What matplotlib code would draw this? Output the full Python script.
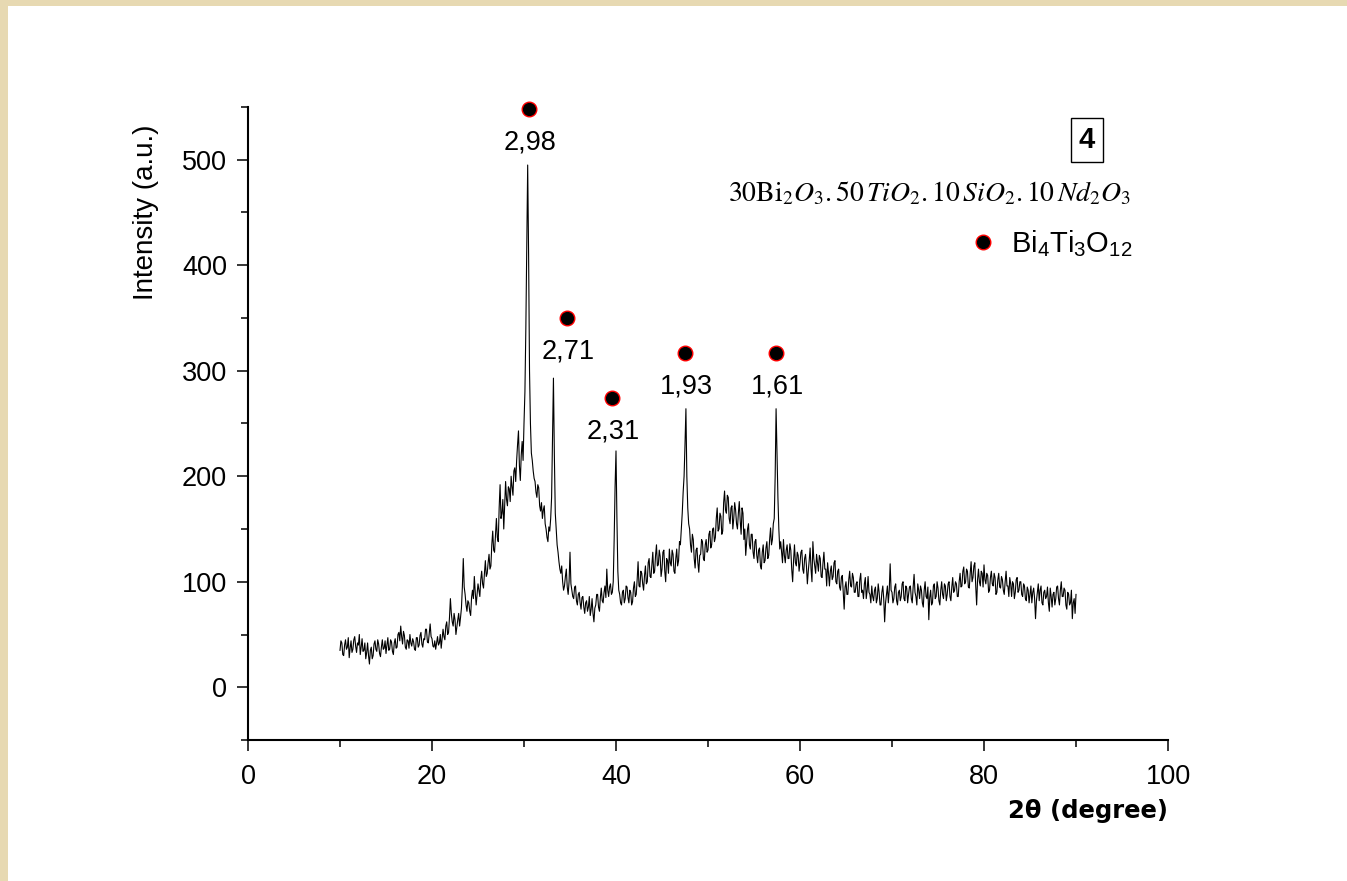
import numpy as np
import matplotlib
matplotlib.use("Agg")
import matplotlib.pyplot as plt
from matplotlib.lines import Line2D
from matplotlib.patches import Rectangle

# ---------------- data ----------------
scan_start, scan_end = 10.0, 90.0   # 2theta range of the scan (step 0.1 deg)
intensity = [
    35, 44, 42, 31, 30, 40, 45, 36, 38, 47, 28, 37, 44, 33, 36, 45, 48, 39, 33, 42,            # 10
    40, 50, 31, 38, 46, 34, 35, 42, 27, 33, 42, 30, 22, 35, 38, 27, 30, 41, 44, 36,            # 12
    34, 45, 41, 32, 29, 38, 45, 36, 37, 44, 32, 40, 47, 35, 36, 45, 43, 34, 31, 42,            # 14
    46, 37, 38, 50, 52, 44, 58, 48, 41, 53, 49, 38, 36, 45, 44, 37, 50, 42, 39, 46,            # 16
    43, 36, 35, 47, 47, 38, 40, 49, 52, 41, 38, 46, 45, 55, 55, 43, 42, 51, 60, 48,            # 18
    46, 39, 38, 44, 36, 42, 48, 40, 42, 50, 37, 46, 55, 48, 45, 58, 62, 50, 52, 66,            # 20
    84, 70, 62, 58, 70, 64, 50, 57, 64, 70, 58, 66, 75, 95, 122, 95, 88, 78, 72, 82,           # 22
    80, 72, 68, 85, 92, 84, 105, 90, 78, 88, 98, 92, 86, 102, 110, 98, 94, 108, 120, 105,      # 24
    108, 118, 126, 112, 115, 135, 148, 130, 128, 145, 160, 142, 138, 170, 192, 160, 165, 178, 150, 172,  # 26
    195, 178, 172, 190, 188, 176, 200, 190, 182, 205, 208, 195, 215, 230, 243, 210, 196, 220, 233, 215,  # 28
    250, 280, 340, 420, 495, 410, 300, 250, 222, 215, 205, 198, 195, 185, 180, 192, 189, 172, 167, 175,  # 30
    160, 168, 172, 155, 150, 142, 138, 152, 148, 160, 180, 240, 293, 220, 165, 150, 135, 128, 119, 112,  # 32
    108, 115, 100, 92, 96, 105, 112, 95, 88, 100, 128, 98, 92, 86, 84, 95, 96, 82, 78, 88,     # 34
    90, 80, 74, 85, 86, 76, 70, 80, 82, 72, 76, 86, 68, 74, 84, 70, 62, 75, 78, 88,            # 36
    88, 76, 72, 85, 94, 82, 80, 90, 96, 85, 112, 92, 86, 95, 98, 88, 90, 100, 140, 190,        # 38
    224, 160, 110, 92, 88, 80, 78, 90, 92, 80, 84, 96, 95, 85, 80, 92, 90, 78, 81, 94,         # 40
    100, 86, 88, 102, 119, 96, 95, 110, 108, 98, 92, 106, 115, 98, 100, 118, 122, 105, 104, 116,  # 42
    128, 108, 110, 125, 135, 115, 116, 130, 124, 105, 112, 128, 130, 110, 100, 122, 120, 108, 131, 118,  # 44
    115, 130, 126, 110, 108, 122, 131, 115, 120, 138, 135, 150, 165, 185, 200, 230, 264, 200, 170, 155,  # 46
    150, 135, 128, 145, 140, 122, 113, 130, 132, 118, 109, 125, 126, 140, 138, 122, 120, 135, 140, 128,  # 48
    130, 145, 148, 132, 135, 150, 151, 138, 142, 160, 170, 148, 150, 165, 162, 145, 148, 175, 186, 168,  # 50
    165, 182, 180, 160, 155, 170, 172, 150, 160, 175, 168, 155, 150, 165, 176, 158, 145, 170, 165, 140,  # 52
    150, 125, 138, 150, 155, 135, 131, 145, 145, 128, 122, 138, 140, 125, 118, 130, 132, 115, 112, 128,  # 54
    135, 118, 120, 132, 138, 122, 125, 140, 151, 135, 140, 155, 160, 200, 264, 220, 180, 150, 131, 138,  # 56
    128, 118, 140, 125, 118, 130, 135, 122, 122, 136, 130, 112, 100, 120, 135, 118, 115, 128, 125, 110,  # 58
    118, 128, 130, 112, 108, 122, 126, 115, 98, 110, 120, 132, 112, 100, 138, 122, 115, 108, 126, 118,  # 60
    110, 125, 122, 105, 104, 118, 128, 112, 112, 96, 118, 108, 96, 110, 115, 102, 105, 118, 120, 100,  # 62
    98, 110, 112, 95, 92, 104, 106, 90, 74, 95, 100, 88, 88, 102, 110, 96, 95, 108, 104, 90,   # 64
    90, 98, 100, 86, 86, 102, 108, 90, 92, 84, 98, 104, 84, 92, 105, 90, 88, 80, 96, 86,       # 66
    82, 92, 95, 80, 84, 98, 90, 78, 78, 90, 96, 84, 62, 80, 88, 96, 80, 92, 117, 92,           # 68
    90, 80, 84, 95, 98, 82, 78, 90, 92, 82, 86, 98, 100, 84, 82, 96, 94, 80, 88, 95,           # 70
    96, 84, 80, 95, 107, 90, 86, 78, 98, 92, 84, 96, 92, 80, 76, 92, 100, 86, 84, 95,          # 72
    64, 85, 92, 78, 80, 96, 98, 84, 86, 100, 94, 82, 78, 92, 100, 88, 84, 98, 96, 82,          # 74
    88, 98, 100, 86, 82, 95, 104, 90, 92, 100, 98, 86, 86, 100, 108, 95, 96, 110, 114, 98,     # 76
    100, 112, 110, 95, 94, 108, 119, 100, 104, 115, 118, 96, 78, 102, 112, 100, 96, 110, 108, 95,  # 78
    116, 102, 98, 108, 106, 90, 92, 104, 110, 98, 96, 108, 104, 88, 90, 102, 108, 95, 94, 105,  # 80
    102, 92, 88, 100, 110, 96, 96, 86, 104, 98, 86, 100, 98, 84, 90, 102, 104, 90, 92, 100,    # 82
    100, 88, 86, 98, 96, 84, 82, 95, 92, 80, 88, 96, 80, 90, 94, 84, 65, 82, 90, 98,           # 84
    82, 92, 96, 80, 78, 90, 92, 84, 86, 95, 80, 72, 94, 86, 76, 88, 90, 78, 84, 95,            # 86
    96, 84, 78, 92, 100, 86, 86, 94, 92, 78, 74, 90, 88, 78, 80, 92, 65, 80, 84, 70,           # 88
    88,                                                                                          # 90
]

peak_2theta = [30.5, 34.7, 39.6, 47.5, 57.4]
peak_marker_intensity = [548, 350, 274, 317, 317]
peak_labels = ["2,98", "2,71", "2,31", "1,93", "1,61"]

x_major = [0, 20, 40, 60, 80, 100]
x_minor = [10, 30, 50, 70, 90]
y_major = [0, 100, 200, 300, 400, 500]
y_minor = [-50, 50, 150, 250, 350, 450, 550]

# ---------------- style ----------------
plt.rcParams['font.family'] = ['Liberation Sans', 'DejaVu Sans']
plt.rcParams['mathtext.fontset'] = 'custom'
plt.rcParams['mathtext.rm'] = 'Liberation Sans'
plt.rcParams['mathtext.it'] = 'Liberation Sans:italic'

fig = plt.figure(figsize=(13.47, 8.81), dpi=100)
fig.patch.set_facecolor('white')
beige = '#E7D9B2'
fig.patches.append(Rectangle((0, 0), 8 / 1347, 1, transform=fig.transFigure,
                             facecolor=beige, edgecolor='none', zorder=-1))
fig.patches.append(Rectangle((0, 1 - 6 / 881), 1, 6 / 881, transform=fig.transFigure,
                             facecolor=beige, edgecolor='none', zorder=-1))

ax = fig.add_axes([248 / 1347, 141 / 881, 920 / 1347, 633 / 881])

two_theta = np.linspace(scan_start, scan_end, len(intensity))
ax.plot(two_theta, intensity, color='black', lw=0.8)

ax.plot(peak_2theta, peak_marker_intensity, ls='none', marker='o', ms=10.5,
        mfc='black', mec='red', mew=1.0, clip_on=False, zorder=5)
for px, py, lab in zip(peak_2theta, peak_marker_intensity, peak_labels):
    ax.annotate(lab, (px, py), xytext=(1, -24), textcoords='offset points',
                ha='center', va='center', fontsize=19.5)

ax.set_xlim(0, 100)
ax.set_ylim(-50, 550)
ax.set_xticks(x_major)
ax.set_xticks(x_minor, minor=True)
ax.set_yticks(y_major)
ax.set_yticks(y_minor, minor=True)
for s in ['top', 'right']:
    ax.spines[s].set_visible(False)
for s in ['left', 'bottom']:
    ax.spines[s].set_linewidth(1.5)
ax.tick_params(which='major', direction='out', length=8, width=1.1, labelsize=19.5, pad=7)
ax.tick_params(axis='x', which='major', pad=9)
ax.tick_params(which='minor', direction='out', length=5, width=1.1)

fig.text(146 / 1347, 1 - 212 / 881, 'Intensity (a.u.)', rotation=90,
         ha='center', va='center', fontsize=20)
fig.text(1168 / 1347, 1 - 811 / 881, '2θ (degree)', ha='right', va='center',
         fontsize=17.5, fontweight='bold', family='DejaVu Sans')

ax.text(0.912, 0.948, '4', transform=ax.transAxes, ha='center', va='center',
        fontsize=21, fontweight='bold',
        bbox=dict(boxstyle='square,pad=0.28', fc='white', ec='black', lw=1.0))
ax.text(0.741, 0.864,
        r'$\mathrm{30Bi_2}O_3.\mathrm{50}\,TiO_2.\mathrm{10}\,SiO_2.\mathrm{10}\,Nd_2O_3$',
        transform=ax.transAxes, ha='center', va='center', fontsize=20,
        math_fontfamily='stix')

handle = Line2D([], [], ls='none', marker='o', ms=10.5, mfc='black', mec='red', mew=1.0)
ax.legend([handle], [r'Bi$_4$Ti$_3$O$_{12}$'], loc='center left',
          bbox_to_anchor=(0.785, 0.7836), frameon=False, fontsize=21,
          handlelength=0.9, handletextpad=0.5, borderpad=0, borderaxespad=0)

fig.savefig('out.png', dpi=100)
